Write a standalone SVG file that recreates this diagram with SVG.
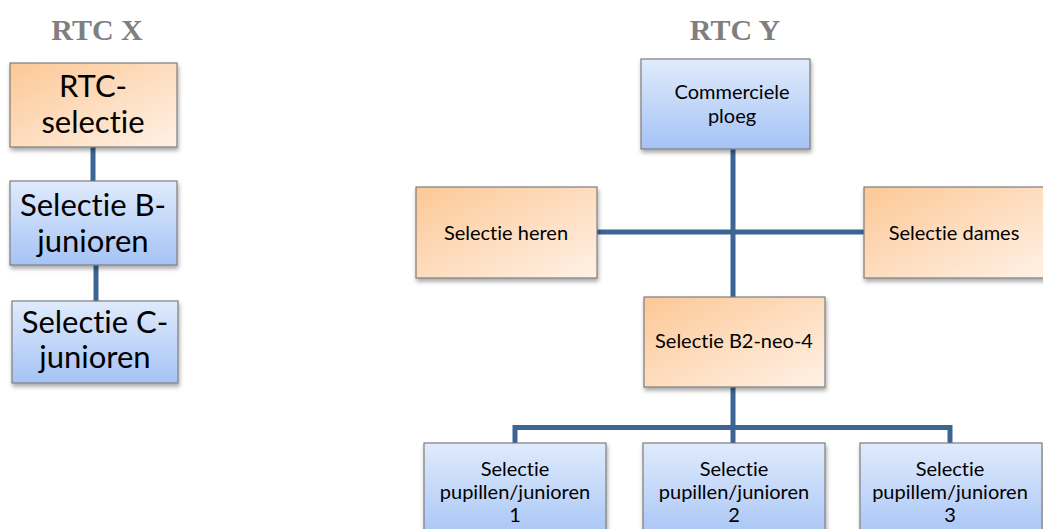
<svg xmlns="http://www.w3.org/2000/svg" width="1043" height="529" viewBox="0 0 1043 529">
  <defs>
    <linearGradient id="gOrange" x1="0" y1="0" x2="1" y2="1">
      <stop offset="0" stop-color="#fcc896"/>
      <stop offset="1" stop-color="#fff1e6"/>
    </linearGradient>
    <linearGradient id="gBlue" x1="0" y1="0" x2="0" y2="1">
      <stop offset="0" stop-color="#e0ebfc"/>
      <stop offset="1" stop-color="#a5c3f5"/>
    </linearGradient>
    <filter id="shadow" x="-10%" y="-10%" width="130%" height="140%">
      <feDropShadow dx="1" dy="3" stdDeviation="2" flood-color="#000" flood-opacity="0.35"/>
    </filter>
  </defs>
  <style>
    .box { stroke: #7d7d7d; stroke-width: 1.2; filter: url(#shadow); }
    .orange { fill: url(#gOrange); }
    .blue { fill: url(#gBlue); }
    .title { font-family: "Liberation Serif", serif; font-weight: bold; font-size: 30px; fill: #7f7f7f; text-anchor: middle; }
    .big { font-family: Lato, "Liberation Sans", sans-serif; font-size: 31px; fill: #000; text-anchor: middle; font-variant-ligatures: none; }
    .small { font-family: Lato, "Liberation Sans", sans-serif; font-size: 20px; fill: #000; text-anchor: middle; font-variant-ligatures: none; }
    .link { fill: none; stroke: #3c6494; stroke-width: 5; }
  </style>

  <rect width="1043" height="529" fill="#fff"/>

  <!-- column titles -->
  <text class="title" x="97" y="40">RTC X</text>
  <text class="title" x="735" y="40">RTC Y</text>

  <!-- connectors -->
  <g id="connectors">
    <line class="link" x1="93" y1="147" x2="93" y2="181"/>
    <line class="link" x1="96" y1="265" x2="96" y2="301"/>
    <line class="link" x1="733" y1="149" x2="733" y2="297"/>
    <line class="link" x1="597" y1="232" x2="864" y2="232"/>
    <line class="link" x1="733" y1="387" x2="733" y2="444"/>
    <path class="link" d="M515 444 V427.5 H950 V444"/>
  </g>

  <!-- RTC X -->
  <g id="rtc-selectie">
    <rect class="box orange" x="10" y="63" width="167" height="84"/>
    <text class="big" x="93" y="97">RTC-</text>
    <text class="big" x="93" y="133">selectie</text>
  </g>
  <g id="selectie-b-junioren">
    <rect class="box blue" x="10" y="181" width="167" height="84"/>
    <text class="big" x="93" y="216">Selectie B-</text>
    <text class="big" x="93" y="252">junioren</text>
  </g>
  <g id="selectie-c-junioren">
    <rect class="box blue" x="12" y="301" width="166" height="82"/>
    <text class="big" x="95" y="333">Selectie C-</text>
    <text class="big" x="95" y="368">junioren</text>
  </g>

  <!-- RTC Y -->
  <g id="commerciele-ploeg">
    <rect class="box blue" x="641" y="59" width="169" height="90"/>
    <text class="small" x="732" y="99">Commerciele</text>
    <text class="small" x="732" y="123">ploeg</text>
  </g>
  <g id="selectie-heren">
    <rect class="box orange" x="416" y="187" width="181" height="91"/>
    <text class="small" x="506" y="240">Selectie heren</text>
  </g>
  <g id="selectie-dames">
    <rect class="box orange" x="864" y="187" width="181" height="91"/>
    <text class="small" x="954" y="240">Selectie dames</text>
  </g>
  <g id="selectie-b2-neo-4">
    <rect class="box orange" x="644" y="297" width="181" height="90"/>
    <text class="small" x="734" y="348">Selectie B2-neo-4</text>
  </g>
  <g id="pupillen-junioren-1">
    <rect class="box blue" x="424" y="443" width="182" height="100"/>
    <text class="small" x="515" y="476">Selectie</text>
    <text class="small" x="515" y="499">pupillen/junioren</text>
    <text class="small" x="515" y="522">1</text>
  </g>
  <g id="pupillen-junioren-2">
    <rect class="box blue" x="643" y="443" width="182" height="100"/>
    <text class="small" x="734" y="476">Selectie</text>
    <text class="small" x="734" y="499">pupillen/junioren</text>
    <text class="small" x="734" y="522">2</text>
  </g>
  <g id="pupillem-junioren-3">
    <rect class="box blue" x="860" y="443" width="182" height="100"/>
    <text class="small" x="950" y="476">Selectie</text>
    <text class="small" x="950" y="499">pupillem/junioren</text>
    <text class="small" x="950" y="522">3</text>
  </g>
</svg>
